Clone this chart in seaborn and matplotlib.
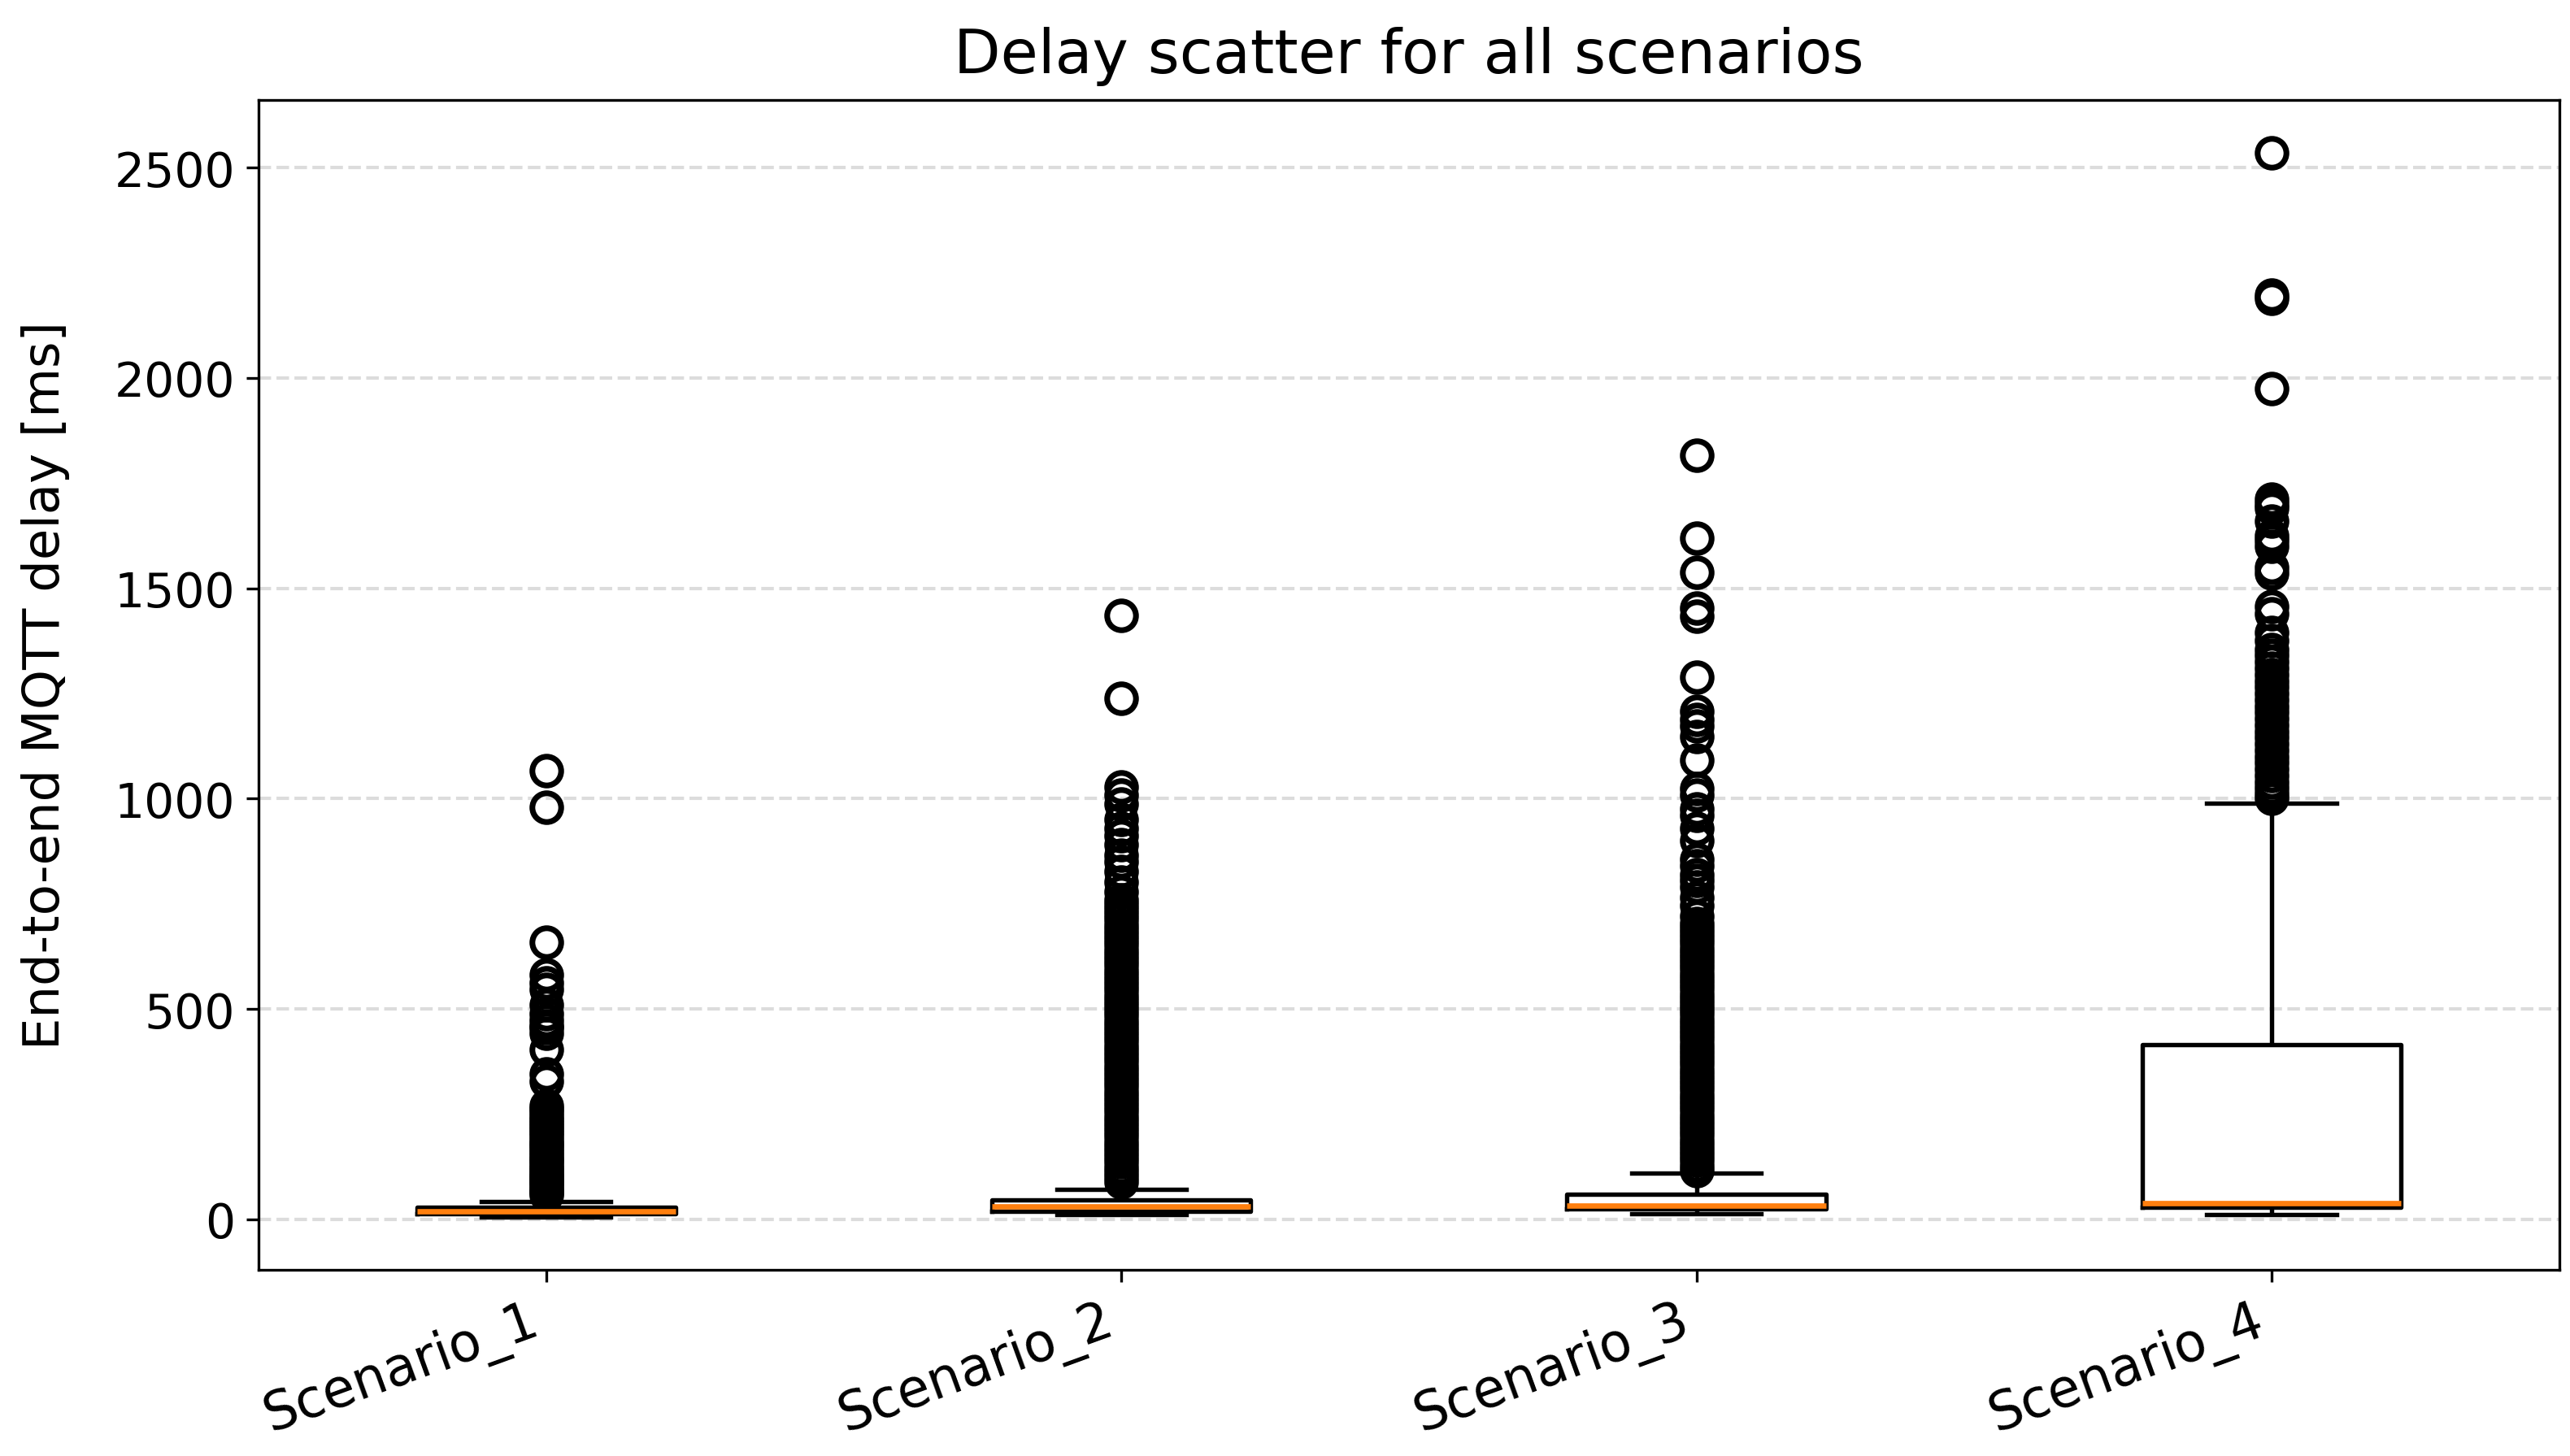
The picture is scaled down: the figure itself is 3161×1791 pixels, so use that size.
import numpy as np
import pandas as pd
import matplotlib
matplotlib.use("Agg")
import matplotlib.pyplot as plt
import seaborn as sns

# Scenario names on the x axis
scenarios = ["Scenario_1", "Scenario_2", "Scenario_3", "Scenario_4"]

# Box statistics [ms]
whisker_low = [6, 12, 14, 11]
q1 = [13, 20, 24, 29]
median = [20, 31, 32, 39]
q3 = [29, 46, 60, 415]
whisker_high = [42, 72, 110, 990]

# Outlier delays [ms]
s1_outliers = [58, 63, 68, 74, 80, 86, 92, 98, 104, 110, 117, 124, 131, 138,
               145, 153, 160, 167, 175, 182, 190, 198, 206, 214, 222, 230, 238,
               246, 254, 262, 270, 329, 345, 403, 442, 455, 459, 474, 488, 510,
               546, 562, 581, 659, 979, 1067]
s2_outliers = [88, 100, 112, 124, 136, 148, 160, 172, 184, 196, 208, 220, 232,
               244, 256, 268, 280, 292, 304, 316, 328, 340, 352, 364, 376, 388,
               400, 412, 424, 436, 448, 460, 472, 484, 496, 508, 520, 532, 544,
               556, 568, 580, 592, 604, 616, 628, 640, 652, 664, 676, 688, 700,
               712, 724, 736, 748, 760, 778, 801, 827, 850, 866, 891, 911, 930,
               950, 988, 1008, 1027, 1238, 1436]
s3_outliers = [116, 128, 140, 152, 164, 176, 188, 200, 212, 224, 236, 248, 260,
               272, 284, 296, 308, 320, 332, 344, 356, 368, 380, 392, 404, 416,
               428, 440, 452, 464, 476, 488, 500, 512, 524, 536, 548, 560, 572,
               584, 596, 608, 620, 632, 644, 656, 668, 680, 692, 704, 720, 745,
               765, 790, 805, 820, 840, 855, 900, 930, 960, 975, 1008, 1024,
               1092, 1147, 1172, 1189, 1208, 1289, 1434, 1453, 1539, 1620, 1817]
s4_outliers = [1000, 1012, 1025, 1040, 1055, 1070, 1085, 1100, 1115, 1130, 1145,
               1160, 1175, 1190, 1205, 1220, 1235, 1250, 1265, 1280, 1295, 1310,
               1325, 1340, 1355, 1375, 1395, 1440, 1457, 1537, 1550, 1600, 1613,
               1625, 1660, 1690, 1700, 1712, 1975, 2190, 2197, 2535]
outliers = [s1_outliers, s2_outliers, s3_outliers, s4_outliers]


def rebuild_sample(lo, a, m, b, hi, extra, k=200):
    # sample whose quartiles / whiskers equal the read statistics
    return [lo] + [a] * k + [m] * k + [b] * k + [hi] + list(extra)


rows = []
for i, name in enumerate(scenarios):
    vals = rebuild_sample(whisker_low[i], q1[i], median[i], q3[i],
                          whisker_high[i], outliers[i])
    rows += [(name, v) for v in vals]
df = pd.DataFrame(rows, columns=["scenario", "delay"])

fig, ax = plt.subplots(figsize=(10.54, 5.973), dpi=300)
fig.subplots_adjust(left=0.1006, right=0.9955, top=0.931, bottom=0.1277)

sns.boxplot(data=df, x="scenario", y="delay", order=scenarios, ax=ax,
            width=0.45, fill=False, color="black", linewidth=1.3, whis=1.5,
            medianprops=dict(color="#ff7f0e", linewidth=1.6),
            flierprops=dict(marker="o", markerfacecolor="none",
                            markeredgecolor="black", markersize=8.5,
                            markeredgewidth=1.7))

ax.grid(axis="y", linestyle="--", color="#dcdcdc", linewidth=1)
ax.set_axisbelow(True)
ax.set_xlim(-0.5, 3.5)

ax.set_title("Delay scatter for all scenarios", fontsize=18, pad=8)
ax.set_ylabel("End-to-end MQTT delay [ms]", fontsize=15, labelpad=13)
ax.set_xlabel("")
ax.tick_params(axis="y", labelsize=14)
ax.tick_params(axis="x", labelsize=15.5)
plt.setp(ax.get_xticklabels(), rotation=20, ha="right")

for s in ax.spines.values():
    s.set_visible(True)
    s.set_color("black")

fig.savefig("out.png", dpi=300)
